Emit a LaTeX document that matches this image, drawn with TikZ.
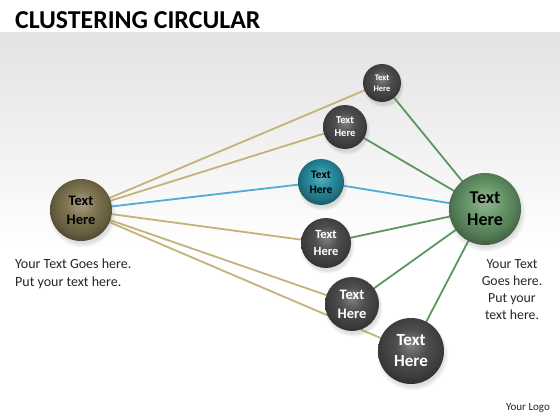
\documentclass[tikz,border=0pt]{standalone}
\usepackage{fontspec}
\setmainfont{Carlito}
\usetikzlibrary{shapes.geometric,positioning,calc,shadows,backgrounds}
\definecolor{HubBrown}{RGB}{128,117,80}
\definecolor{HubGreen}{RGB}{104,152,106}
\definecolor{LeafTeal}{RGB}{40,142,162}
\definecolor{LeafDark}{RGB}{78,78,78}
\definecolor{LineTan}{RGB}{196,178,122}
\definecolor{LineGreen}{RGB}{92,150,94}
\definecolor{LineBlue}{RGB}{80,172,212}

\makeatletter
\pgfdeclareradialshading[tikz@ball]{orb}{\pgfqpoint{0bp}{6bp}}{color(0bp)=(tikz@ball!70!white); color(12bp)=(tikz@ball); color(22bp)=(tikz@ball!80!black); color(30bp)=(tikz@ball!55!black); color(50bp)=(tikz@ball!55!black)}
\tikzset{orb color/.code={\pgfutil@colorlet{tikz@ball}{#1}\def\tikz@shading{orb}\tikz@addmode{\tikz@mode@shadetrue}}}
\makeatother

\tikzstyle{Sphere} = [circle, inner sep=0pt, align=center, circular drop shadow={shadow xshift=1pt, shadow yshift=-3pt, opacity=0.25}]
\tikzstyle{Hub} = [Sphere, text=black]
\tikzstyle{Leaf} = [Sphere, text=white, orb color=LeafDark]
\tikzstyle{Link} = [line width=1.8pt]
\tikzstyle{Note} = [align=center, text=black!85]

\begin{document}
\begin{tikzpicture}[x=1pt,y=-1pt]
        \useasboundingbox (0,0) rectangle (560,420);

        %%%%% Title %%%%%

        \node[anchor=base west, inner sep=0pt, font=\fontsize{25.8}{28}\selectfont\bfseries] (T) at (15,29) {CLUSTERING CIRCULAR};

        %%%%% Hubs %%%%%

        \draw node[Hub, orb color=HubBrown, minimum size=62pt, font=\fontsize{14.5}{19}\selectfont\bfseries] at (81,210) (A){Text\\Here};
        \draw node[Hub, orb color=HubGreen, minimum size=72pt, font=\fontsize{18}{22}\selectfont\bfseries] at (485,209) (B){Text\\Here};

        %%%%% Middle Spheres %%%%%

        \draw node[Leaf, minimum size=38pt, font=\fontsize{8.5}{11}\selectfont\bfseries] at (382,83) (C1){Text\\Here};
        \draw node[Leaf, minimum size=44pt, font=\fontsize{10.5}{13}\selectfont\bfseries] at (345,127) (C2){Text\\Here};
        \draw node[Hub, orb color=LeafTeal, minimum size=46pt, font=\fontsize{11.5}{15}\selectfont\bfseries] at (321,182) (C3){Text\\Here};
        \draw node[Leaf, minimum size=50pt, font=\fontsize{12.5}{17}\selectfont\bfseries] at (326,243) (C4){Text\\Here};
        \draw node[Leaf, minimum size=54pt, font=\fontsize{14.5}{19}\selectfont\bfseries] at (352,304) (C5){Text\\Here};
        \draw node[Leaf, minimum size=66pt, font=\fontsize{17}{21}\selectfont\bfseries] at (411,351) (C6){Text\\Here};

        %%%%% Notes %%%%%

        \node[Note, align=left, anchor=north west, inner sep=0pt, font=\fontsize{14}{17.5}\selectfont] at (15,259) (N1){Your Text Goes here.\\Put your text here.};
        \node[Note, inner sep=0pt, font=\fontsize{13.8}{17}\selectfont] at (512,290) (N2){Your Text\\Goes here.\\Put your\\text here.};
        \node[Note, inner sep=0pt, font=\fontsize{11}{13}\selectfont] at (528,408) (N3){Your Logo};

        %%%%% Background and Links %%%%%

        \begin{scope}[on background layer]
        \fill[white] (0,0) rectangle (560,420);
        \shade[top color=black!11, bottom color=white] (0,33) rectangle (560,250);

        \foreach \c in {C1,C2,C4,C5,C6}
                \draw [Link, LineTan] (A.center) -- (\c.center);
        \foreach \c in {C1,C2,C4,C5,C6}
                \draw [Link, LineGreen] (\c.center) -- (B.center);
        \draw [Link, LineBlue] (A.center) -- (C3.center) -- (B.center);
        \end{scope}

\end{tikzpicture}
\end{document}
